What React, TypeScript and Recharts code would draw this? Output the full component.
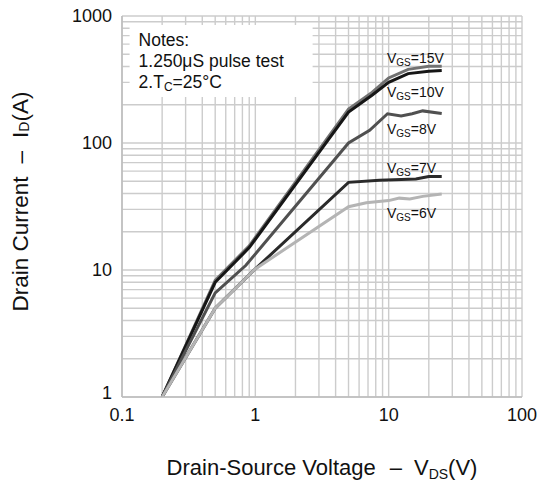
import React from 'react';
import {
  LineChart,
  Line,
  XAxis,
  YAxis,
  CartesianGrid,
  ReferenceArea,
  ReferenceDot,
} from 'recharts';

// ---- axis ticks ----
const xTicks = [
  0.1, 0.2, 0.3, 0.4, 0.5, 0.6, 0.7, 0.8, 0.9,
  1, 2, 3, 4, 5, 6, 7, 8, 9,
  10, 20, 30, 40, 50, 60, 70, 80, 90, 100,
];
const yTicks = [
  1, 2, 3, 4, 5, 6, 7, 8, 9,
  10, 20, 30, 40, 50, 60, 70, 80, 90,
  100, 200, 300, 400, 500, 600, 700, 800, 900, 1000,
];
const xMajorTicks = [0.1, 1, 10, 100];
const yMajorTicks = [1, 10, 100, 1000];

// ---- series (VDS in V, ID in A) ----
const vds15 = [0.2, 0.5, 0.9, 5, 7.5, 10, 14, 20, 25];
const id15 = [1, 8.3, 15.5, 185, 250, 325, 380, 402, 403];

const vds10 = [0.2, 0.5, 0.9, 5, 7.5, 10, 14, 20, 25];
const id10 = [1, 8.0, 15.0, 175, 238, 300, 352, 368, 372];

const vds8 = [0.2, 0.5, 0.85, 5, 7.2, 9.8, 12.4, 15, 18, 25];
const id8 = [1, 6.6, 10.9, 100, 126, 170, 163, 170, 179, 171];

const vds7 = [0.2, 0.5, 1, 5, 8.5, 16, 20, 25];
const id7 = [1, 5, 10.2, 49, 51, 52, 54.5, 54.5];

const vds6 = [0.2, 0.5, 1, 5, 6.8, 10, 12, 14.4, 18, 25];
const id6 = [1, 5, 10.2, 31.5, 33.9, 35.2, 36.8, 36.2, 38, 39.6];

const seriesNames = ['15V', '10V', '8V', '7V', '6V'];
const seriesColors = ['#727272', '#161616', '#505050', '#2a2a2a', '#b4b4b4'];

// label anchors (data coordinates)
const labelVds = [9.7, 9.7, 9.7, 9.7, 9.7];
const labelId = [467, 252, 129, 63.6, 28.1];

// notes box (data coordinates)
const notesX = [0.114, 2.69];
const notesY = [230, 849];

const zip = (v: number[], i: number[]) => v.map((x, k) => ({ v: x, i: i[k] }));
const seriesData = [
  zip(vds15, id15),
  zip(vds10, id10),
  zip(vds8, id8),
  zip(vds7, id7),
  zip(vds6, id6),
];

const FONT = '"Liberation Sans", Arial, Helvetica, sans-serif';
const TEXT = '#111111';
const GRID = '#cccccc';

const XTick = (props: any) => {
  const { x, y, payload } = props;
  if (!xMajorTicks.includes(payload.value)) return <g />;
  return (
    <text x={x} y={y} dy={24} textAnchor="middle" fontSize={18} fontFamily={FONT} fill={TEXT}>
      {payload.value}
    </text>
  );
};

const YTick = (props: any) => {
  const { x, y, payload } = props;
  if (!yMajorTicks.includes(payload.value)) return <g />;
  return (
    <text x={x} y={y} dy={payload.value === 1 ? 2 : 6} textAnchor="end" fontSize={18} fontFamily={FONT} fill={TEXT}>
      {payload.value}
    </text>
  );
};

const CurveLabel = (props: any) => {
  const { viewBox, name } = props;
  const x = viewBox.x;
  const y = viewBox.y;
  return (
    <text x={x} y={y} dy={5} textAnchor="start" fontSize={14} fontFamily={FONT} fill={TEXT}>
      V
      <tspan fontSize={10} dy={3}>GS</tspan>
      <tspan dy={-3}>={name}</tspan>
    </text>
  );
};

const NotesLabel = (props: any) => {
  const { viewBox } = props;
  const x = viewBox.x + 9;
  const y = viewBox.y;
  return (
    <g fontFamily={FONT} fontSize={17.5} fill={TEXT}>
      <text x={x} y={y + 21}>Notes:</text>
      <text x={x} y={y + 42}>1.250μS pulse test</text>
      <text x={x} y={y + 63}>
        2.T<tspan fontSize={12} dy={3}>C</tspan>
        <tspan dy={-3}>=25°C</tspan>
      </text>
    </g>
  );
};

const XTitle = (props: any) => {
  const { viewBox } = props;
  const cx = viewBox.x + viewBox.width / 2;
  const y = viewBox.y + 78;
  return (
    <text x={cx} y={y} textAnchor="middle" fontSize={22} fontFamily={FONT} fill={TEXT}>
      Drain-Source Voltage
      <tspan dx={14}>–</tspan>
      <tspan dx={12}>V</tspan>
      <tspan fontSize={14} dy={4}>DS</tspan>
      <tspan dy={-4}>(V)</tspan>
    </text>
  );
};

const YTitle = (props: any) => {
  const { viewBox } = props;
  const cx = viewBox.x + 20;
  const cy = viewBox.y + viewBox.height / 2 - 5;
  return (
    <text
      x={cx}
      y={cy}
      transform={`rotate(-90 ${cx} ${cy})`}
      textAnchor="middle"
      dominantBaseline="central"
      fontSize={22.5}
      fontFamily={FONT}
      fill={TEXT}
    >
      Drain Current
      <tspan dx={13}>–</tspan>
      <tspan dx={13}>I</tspan>
      <tspan fontSize={14} dy={4}>D</tspan>
      <tspan dy={-4}>(A)</tspan>
    </text>
  );
};

export default function App() {
  return (
    <div style={{ position: 'fixed', left: 0, top: 0, width: 542, height: 489, background: '#ffffff' }}>
      <LineChart
        width={542}
        height={489}
        margin={{ top: 16, right: 20, left: 0, bottom: 0 }}
      >
        <CartesianGrid stroke={GRID} strokeWidth={1.4} />
        <XAxis
          dataKey="v"
          type="number"
          scale="log"
          domain={[0.1, 100]}
          ticks={xTicks}
          interval={0}
          allowDataOverflow
          height={92}
          tickLine={false}
          tickSize={0}
          tickMargin={0}
          axisLine={{ stroke: '#bdbdbd', strokeWidth: 1.5 }}
          tick={<XTick />}
          label={<XTitle />}
        />
        <YAxis
          type="number"
          scale="log"
          domain={[1, 1000]}
          ticks={yTicks}
          interval={0}
          allowDataOverflow
          width={122}
          tickLine={false}
          tickSize={0}
          tickMargin={10}
          axisLine={{ stroke: '#bdbdbd', strokeWidth: 1.5 }}
          tick={<YTick />}
          label={<YTitle />}
        />
        <ReferenceArea
          x1={notesX[0]}
          x2={notesX[1]}
          y1={notesY[0]}
          y2={notesY[1]}
          fill="#ffffff"
          fillOpacity={1}
          stroke="none"
          label={<NotesLabel />}
        />
        {seriesData.map((d, k) => (
          <Line
            key={seriesNames[k]}
            data={d}
            dataKey="i"
            type="linear"
            stroke={seriesColors[k]}
            strokeWidth={3}
            dot={false}
            activeDot={false}
            isAnimationActive={false}
          />
        ))}
        {seriesNames.map((n, k) => (
          <ReferenceDot
            key={'lab' + n}
            x={labelVds[k]}
            y={labelId[k]}
            r={0}
            fill="none"
            stroke="none"
            label={<CurveLabel name={n} />}
          />
        ))}
      </LineChart>
    </div>
  );
}
